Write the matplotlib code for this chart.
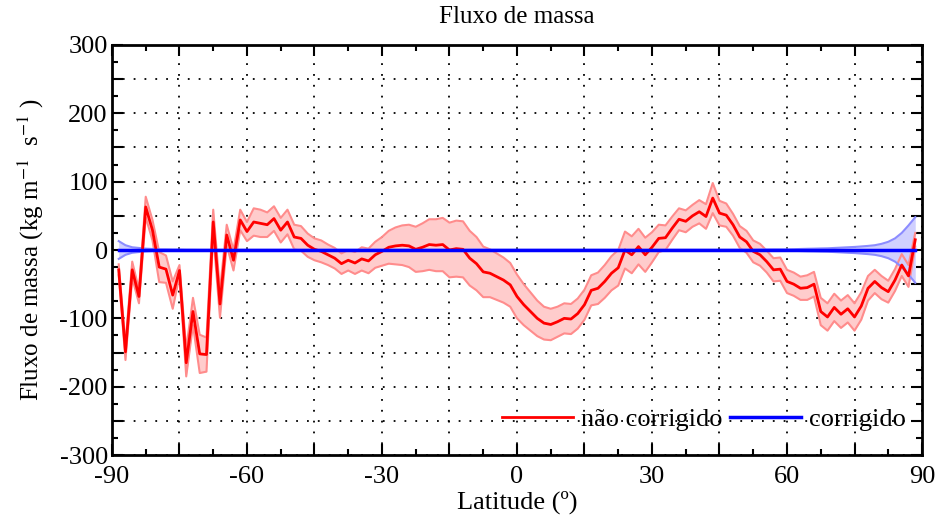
import numpy as np
import matplotlib
matplotlib.use("Agg")
import matplotlib.pyplot as plt
from matplotlib.ticker import MultipleLocator, FuncFormatter

plt.rcParams['font.family'] = ['Liberation Serif', 'DejaVu Serif']
plt.rcParams['mathtext.fontset'] = 'stix'

# latitude grid (1.5 deg)
lat = np.arange(-88.5, 88.6, 1.5)

# zonal mass flux, uncorrected (kg m-1 s-1)
nao_corr = [-29, -149, -29, -68, 63, 29, -25, -28, -66, -30,
            -165, -90, -152, -153, 41, -79, 22, -15, 44, 27,
            41, 39, 37, 46, 29, 41, 19, 17, 7, 1,
            -2, -7, -12, -20, -15, -19, -13, -16, -7, -2,
            4, 6, 7, 6, 1, 4, 8, 7, 8, 0,
            2, 1, -12, -20, -32, -34, -39, -44, -51, -68,
            -80, -90, -100, -107, -109, -105, -100, -101, -93, -80,
            -59, -56, -46, -34, -26, 0, -7, 5, -7, 4,
            17, 18, 32, 45, 42, 50, 56, 49, 76, 54,
            51, 37, 19, 12, -2, -7, -17, -29, -28, -46,
            -50, -56, -55, -50, -90, -98, -84, -94, -86, -98,
            -82, -56, -46, -55, -61, -44, -22, -38, 15]

# half width of the uncertainty band
nao_corr_err = [8, 12, 12, 10, 15, 15, 22, 20, 20, 8,
                20, 20, 28, 25, 18, 20, 15, 15, 15, 14,
                20, 20, 18, 18, 18, 18, 18, 18, 17, 16,
                16, 15, 15, 15, 15, 16, 17, 18, 19, 21,
                24, 27, 29, 31, 33, 35, 37, 38, 39, 40,
                41, 41, 40, 39, 37, 35, 34, 33, 32, 32,
                30, 28, 26, 24, 23, 22, 22, 22, 22, 22,
                22, 23, 24, 25, 26, 27, 27, 26, 25, 22,
                20, 18, 17, 16, 16, 16, 17, 18, 22, 18,
                17, 16, 16, 16, 16, 16, 16, 17, 17, 17,
                17, 17, 18, 18, 20, 20, 20, 20, 20, 20,
                20, 18, 17, 17, 16, 16, 16, 16, 10]

# corrected flux and its band
corr = [0.0] * len(lat)
corr_err = [13, 7, 4, 3, 2, 1.5, 1, 1, 0.8, 0.8,
            0.6, 0.6, 0.5, 0.5, 0.5, 0.5, 0.5, 0.5, 0.5, 0.5,
            0.5, 0.5, 0.5, 0.5, 0.5, 0.5, 0.5, 0.5, 0.5, 0.5,
            0.5, 0.5, 0.5, 0.5, 0.5, 0.5, 0.5, 0.5, 0.5, 0.5,
            0.5, 0.5, 0.5, 0.5, 0.5, 0.5, 0.5, 0.5, 0.5, 0.5,
            0.5, 0.5, 0.5, 0.5, 0.5, 0.5, 0.5, 0.5, 0.5, 0.5,
            0.5, 0.5, 0.5, 0.5, 0.5, 0.5, 0.5, 0.5, 0.5, 0.5,
            0.5, 0.5, 0.5, 0.5, 0.5, 0.5, 0.5, 0.5, 0.5, 0.5,
            0.5, 0.5, 0.5, 0.5, 0.5, 0.5, 0.5, 0.5, 0.5, 0.5,
            0.5, 0.5, 0.5, 0.6, 0.7, 0.8, 0.9, 1.0, 1.0, 1.0,
            1.2, 1.5, 1.8, 2.0, 2.3, 2.5, 3.0, 3.5, 4.0, 4.5,
            5.2, 6, 7, 9, 12, 17, 25, 36, 48]

nao_corr = np.array(nao_corr, dtype=float)
nao_corr_err = np.array(nao_corr_err, dtype=float)
corr = np.array(corr)
corr_err = np.array(corr_err, dtype=float)

fig = plt.figure(figsize=(9.37, 5.25), dpi=100)
ax = fig.add_axes([0.1195, 0.1333, 0.8645, 0.781])

# uncorrected: band + line
ax.fill_between(lat, nao_corr - nao_corr_err, nao_corr + nao_corr_err,
                color='#ffcccc', lw=0, zorder=2)
ax.plot(lat, nao_corr - nao_corr_err, color='#ff8c8c', lw=1.5, zorder=3)
ax.plot(lat, nao_corr + nao_corr_err, color='#ff8c8c', lw=1.5, zorder=3)
ax.plot(lat, nao_corr, color='red', lw=2, zorder=5, label='não corrigido')

# corrected: band + line
ax.fill_between(lat, corr - corr_err, corr + corr_err,
                color='#d0d0ff', lw=0, zorder=2)
ax.plot(lat, corr - corr_err, color='#8c8cff', lw=1.5, zorder=3)
ax.plot(lat, corr + corr_err, color='#8c8cff', lw=1.5, zorder=3)
ax.plot(lat, corr, color='blue', lw=2.5, zorder=6, label='corrigido')

ax.set_xlim(-90, 90)
ax.set_ylim(-300, 300)

ax.xaxis.set_major_locator(MultipleLocator(15))
ax.xaxis.set_minor_locator(MultipleLocator(7.5))
ax.yaxis.set_major_locator(MultipleLocator(50))
ax.yaxis.set_minor_locator(MultipleLocator(25))
ax.xaxis.set_major_formatter(FuncFormatter(
    lambda v, p: '%d' % v if round(v) % 30 == 0 else ''))
ax.yaxis.set_major_formatter(FuncFormatter(
    lambda v, p: '%d' % v if round(v) % 100 == 0 else ''))

ax.tick_params(which='both', direction='in', top=True, right=True,
               labelsize=19, width=1.5)
ax.tick_params(axis='x', pad=8)
ax.tick_params(axis='y', pad=3)
ax.tick_params(which='major', length=8)
ax.tick_params(which='minor', length=4)

ax.grid(True, which='major', color='black', lw=1.3,
        linestyle=(0, (1, 5)), zorder=1)
for s in ax.spines.values():
    s.set_linewidth(2)

ax.set_title('Fluxo de massa', fontsize=18, pad=16)
ax.set_xlabel('Latitude (º)', fontsize=19, labelpad=2)
ax.set_ylabel('Fluxo de massa (kg m$^{-1}$  s$^{-1}$ )', fontsize=18, labelpad=10)

ax.legend(loc='lower right', ncol=2, frameon=False, fontsize=19,
          handlelength=2.7, columnspacing=0.3, handletextpad=0.3,
          borderaxespad=0.2, bbox_to_anchor=(1.0, 0.02))

fig.savefig('out.png', dpi=100)
